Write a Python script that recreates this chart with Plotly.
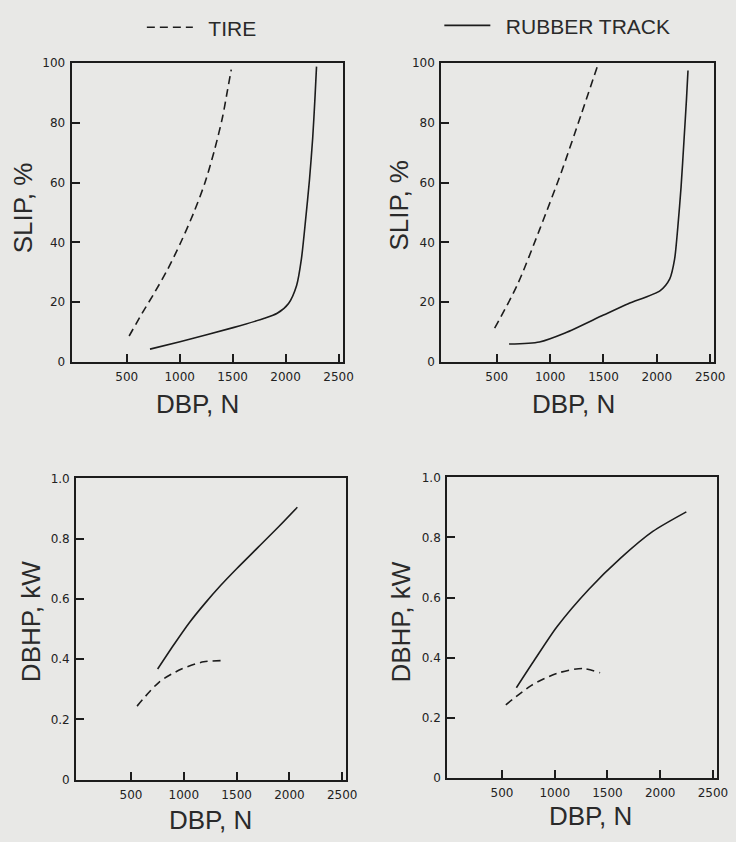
import plotly.graph_objects as go

# ---- data ----
# Top-left: SLIP vs DBP
tl_tire_x = [523, 644, 766, 888, 1009, 1131, 1237, 1328, 1404, 1450, 1487]
tl_tire_y = [8.7, 16.2, 23.4, 31.1, 39.9, 49.8, 59.8, 70.8, 81.8, 90.6, 97.8]
tl_track_x = [720, 1003, 1505, 1800, 1921, 2028, 2104, 2149, 2189, 2225, 2256, 2277, 2292]
tl_track_y = [4.3, 6.8, 11.5, 14.6, 16.3, 19.6, 25.6, 34.4, 47.6, 60.8, 75.0, 88.2, 98.8]

# Top-right: SLIP vs DBP
tr_tire_x = [480, 690, 900, 1110, 1290, 1440]
tr_tire_y = [11.3, 25.6, 44.2, 64.0, 82.7, 98.6]
tr_track_x = [615, 900, 1140, 1500, 1732, 2032, 2121, 2166, 2197, 2227, 2256, 2278, 2292]
tr_track_y = [6.0, 6.7, 9.7, 15.7, 19.5, 23.9, 27.8, 34.3, 45.3, 58.5, 75.0, 88.0, 97.5]

# Bottom-left: DBHP vs DBP
bl_tire_x = [557, 767, 978, 1188, 1368]
bl_tire_y = [0.244, 0.324, 0.367, 0.391, 0.395]
bl_track_x = [752, 900, 1050, 1200, 1350, 1500, 1700, 1900, 2075]
bl_track_y = [0.367, 0.445, 0.520, 0.585, 0.645, 0.700, 0.770, 0.840, 0.904]

# Bottom-right: DBHP vs DBP
br_tire_x = [536, 779, 1021, 1264, 1430]
br_tire_y = [0.243, 0.308, 0.348, 0.364, 0.350]
br_track_x = [636, 809, 1021, 1324, 1627, 1930, 2248]
br_track_y = [0.300, 0.393, 0.503, 0.628, 0.732, 0.820, 0.885]

x_ticks = [500, 1000, 1500, 2000, 2500]
slip_ticks = [0, 20, 40, 60, 80, 100]
dbhp_ticks = [0, 0.2, 0.4, 0.6, 0.8, 1.0]
dbhp_labels = ["0", "0.2", "0.4", "0.6", "0.8", "1.0"]

tire_name = "TIRE"
track_name = "RUBBER TRACK"
x_title = "DBP, N"
slip_title = "SLIP, %"
dbhp_title = "DBHP, kW"

# ---- styling ----
INK = "#1c1c1c"
BG = "#e8e8e6"
TIRE_DASH = "8px,5px"
GAP = "\u2002"  # visual gap between legend sample and label

fig = go.Figure()

panels = [
    ("x", "y", tl_tire_x, tl_tire_y, tl_track_x, tl_track_y),
    ("x2", "y2", tr_tire_x, tr_tire_y, tr_track_x, tr_track_y),
    ("x3", "y3", bl_tire_x, bl_tire_y, bl_track_x, bl_track_y),
    ("x4", "y4", br_tire_x, br_tire_y, br_track_x, br_track_y),
]
for i, (xa, ya, tx, ty, rx, ry) in enumerate(panels):
    fig.add_trace(go.Scatter(
        x=tx, y=ty, xaxis=xa, yaxis=ya, mode="lines", name=GAP + tire_name,
        line=dict(color=INK, width=1.6, dash=TIRE_DASH, shape="spline", smoothing=0.8),
        showlegend=(i == 0), legend="legend", hoverinfo="skip"))
    fig.add_trace(go.Scatter(
        x=rx, y=ry, xaxis=xa, yaxis=ya, mode="lines", name=GAP + track_name,
        line=dict(color=INK, width=1.6, shape="spline", smoothing=0.7),
        showlegend=(i == 1), legend="legend2", hoverinfo="skip"))

tick_font = dict(family="DejaVu Sans", size=12, color="#222222")

def xaxis(domain, anchor):
    return dict(domain=domain, anchor=anchor, range=[-20, 2540],
                tickvals=x_ticks, ticks="inside", ticklen=8, tickwidth=2,
                tickcolor=INK, showline=True, linewidth=2, linecolor=INK,
                mirror=True, showgrid=False, zeroline=False,
                tickfont=tick_font, ticklabelstandoff=3)

def yaxis(domain, anchor, rng, vals, text=None):
    d = dict(domain=domain, anchor=anchor, range=rng, tickvals=vals,
             ticks="inside", ticklen=8, tickwidth=2, tickcolor=INK,
             showline=True, linewidth=2, linecolor=INK, mirror=True,
             showgrid=False, zeroline=False, tickfont=tick_font,
             ticklabelstandoff=2)
    if text is not None:
        d["ticktext"] = text
    return d

W, H = 736, 842
def dx(a, b):
    return [a / W, b / W]
def dy(top, bottom):
    return [1 - bottom / H, 1 - top / H]

legend_font = dict(size=21, family="Liberation Sans", color="#2a2a2a")
fig.update_layout(
    width=W, height=H, autosize=False,
    margin=dict(l=0, r=0, t=0, b=0),
    paper_bgcolor=BG, plot_bgcolor=BG,
    font=dict(family="Liberation Sans", color="#2a2a2a"),
    xaxis=xaxis(dx(72.7, 348), "y"),
    yaxis=yaxis(dy(57, 361), "x", [0, 100], slip_ticks),
    xaxis2=xaxis(dx(448, 725.3), "y2"),
    yaxis2=yaxis(dy(57, 361), "x2", [0, 100], slip_ticks),
    xaxis3=xaxis(dx(77.3, 351.7), "y3"),
    yaxis3=yaxis(dy(479.3, 785.7), "x3", [0, 1.0], dbhp_ticks, dbhp_labels),
    xaxis4=xaxis(dx(454, 728), "y4"),
    yaxis4=yaxis(dy(478.3, 784), "x4", [0, 1.0], dbhp_ticks, dbhp_labels),
    legend=dict(x=144 / W, y=1 - 21 / H, xanchor="left", yanchor="middle",
                itemwidth=46, bgcolor="rgba(0,0,0,0)", font=legend_font),
    legend2=dict(x=446 / W, y=1 - 19 / H, xanchor="left", yanchor="middle",
                 itemwidth=46, bgcolor="rgba(0,0,0,0)", font=legend_font),
)

title_font = dict(family="Liberation Sans", size=26, color="#2a2a2a")
annots = [
    (201 / W, 1 - 404 / H, x_title, 0),
    (582 / W, 1 - 404 / H, x_title, 0),
    (214 / W, 1 - 827 / H, x_title, 0),
    (599 / W, 1 - 823 / H, x_title, 0),
    (23 / W, 1 - 204 / H, slip_title, -90),
    (405 / W, 1 - 201 / H, slip_title, -90),
    (31 / W, 1 - 625 / H, dbhp_title, -90),
    (407 / W, 1 - 625 / H, dbhp_title, -90),
]
for ax_, ay_, t, ang in annots:
    fig.add_annotation(x=ax_, y=ay_, xref="paper", yref="paper", text=t,
                       showarrow=False, textangle=ang, font=title_font,
                       xanchor="center", yanchor="middle")

fig.write_html("out.html")
